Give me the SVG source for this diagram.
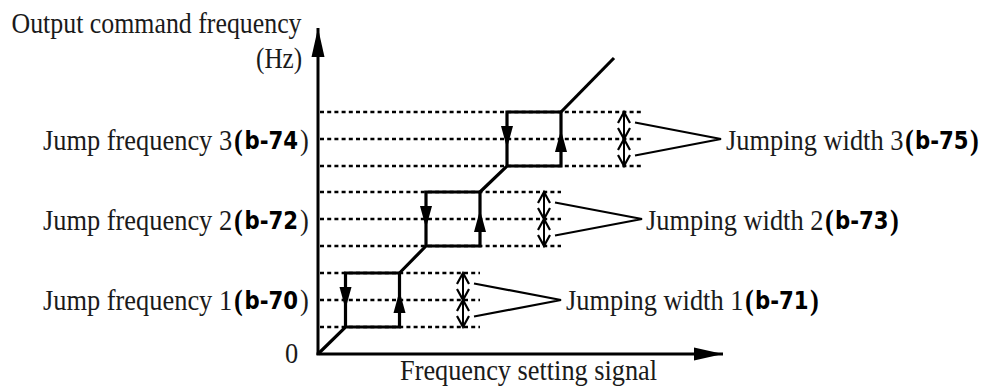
<svg xmlns="http://www.w3.org/2000/svg" width="983" height="390" viewBox="0 0 983 390">
<style>
  .t { font-family: "Liberation Serif", "Times New Roman", serif; font-size: 30px; fill: #1a1a1a; }
  .pb { font-family: "Liberation Serif", "Times New Roman", serif; font-size: 30px; font-weight: bold; fill: #000; }
  .code { font-family: "DejaVu Sans", "Liberation Sans", sans-serif; font-size: 25px; font-weight: bold; fill: #000; }
  .axis { stroke: #000; stroke-width: 3; fill: none; }
  .curve { stroke: #000; stroke-width: 3.2; fill: none; stroke-linejoin: miter; }
  .dash { stroke: #000; stroke-width: 2.3; stroke-dasharray: 4 3.2; fill: none; }
  .dbl { stroke: #000; stroke-width: 2; fill: none; marker-start: url(#chev); marker-end: url(#chev); }
  .call { stroke: #000; stroke-width: 2.2; fill: none; stroke-linejoin: miter; }
  .ah { fill: #000; }
</style>
<defs>
  <marker id="axhead" markerUnits="userSpaceOnUse" markerWidth="32" markerHeight="16" refX="0" refY="0" viewBox="-30 -7 32 14" orient="auto" overflow="visible">
    <path d="M0,0 L-29,-6.5 L-29,6.5 Z" fill="#000"/>
  </marker>
  <marker id="chev" markerUnits="userSpaceOnUse" markerWidth="14" markerHeight="14" refX="0" refY="0" viewBox="-12 -7 14 14" orient="auto-start-reverse" overflow="visible">
    <path d="M-11,-6 L0,0 L-11,6" fill="none" stroke="#000" stroke-width="2.2"/>
  </marker>
</defs>

<g id="guides">
  <line class="dash" x1="320" y1="112" x2="642" y2="112"/>
  <line class="dash" x1="320" y1="139" x2="642" y2="139"/>
  <line class="dash" x1="320" y1="166" x2="642" y2="166"/>
  <line class="dash" x1="320" y1="192" x2="561" y2="192"/>
  <line class="dash" x1="320" y1="219" x2="561" y2="219"/>
  <line class="dash" x1="320" y1="246" x2="561" y2="246"/>
  <line class="dash" x1="320" y1="273" x2="480" y2="273"/>
  <line class="dash" x1="320" y1="300" x2="480" y2="300"/>
  <line class="dash" x1="320" y1="327" x2="480" y2="327"/>
</g>

<g id="axes">
  <line class="axis" x1="318" y1="355" x2="318" y2="28" marker-end="url(#axhead)"/>
  <line class="axis" x1="316.5" y1="354" x2="723" y2="354" marker-end="url(#axhead)"/>
</g>

<g id="curve">
  <path class="curve" d="M318,354 L345.5,327 L399.5,327 L399.5,273 L345.5,273 L345.5,327"/>
  <path class="curve" d="M399.5,273 L426,246 L480,246 L480,192 L426,192 L426,246"/>
  <path class="curve" d="M480,192 L507,166 L561,166 L561,112 L507,112 L507,166"/>
  <path class="curve" d="M561,112 L614,58"/>
  <polygon class="ah" points="339.5,287 351.5,287 345.5,309"/>
  <polygon class="ah" points="393.5,313 405.5,313 399.5,291"/>
  <polygon class="ah" points="420,206 432,206 426,228"/>
  <polygon class="ah" points="474,232 486,232 480,210"/>
  <polygon class="ah" points="501,126 513,126 507,148"/>
  <polygon class="ah" points="555,152 567,152 561,130"/>
</g>

<g id="widths">
  <line class="dbl" x1="463" y1="273" x2="463" y2="300"/>
  <line class="dbl" x1="463" y1="300" x2="463" y2="327"/>
  <line class="dbl" x1="544" y1="192" x2="544" y2="219"/>
  <line class="dbl" x1="544" y1="219" x2="544" y2="246"/>
  <line class="dbl" x1="624" y1="112" x2="624" y2="139"/>
  <line class="dbl" x1="624" y1="139" x2="624" y2="166"/>
  <polyline class="call" points="474,283.5 561,300 474,316.5"/>
  <polyline class="call" points="555,202.5 642,219 555,235.5"/>
  <polyline class="call" points="635,122.5 721,139 635,155.5"/>
</g>

<g id="label-yaxis">
  <text class="t" transform="translate(11.5,33) scale(0.862,1)">Output command frequency</text>
  <text class="t" transform="translate(256,68) scale(0.84,1)">(Hz)</text>
  <text class="t" transform="translate(285,363) scale(0.88,1)">0</text>
</g>

<g id="label-xaxis">
  <text class="t" transform="translate(400,380) scale(0.877,1)">Frequency setting signal</text>
</g>

<g id="label-jf3">
  <text class="t" transform="translate(43,150) scale(0.88,1)">Jump frequency 3</text>
  <text class="pb" transform="translate(234,150) scale(0.88,1)">(</text>
  <text class="code" transform="translate(244.5,149) scale(0.85,1)">b-74</text>
  <text class="t" transform="translate(300,150) scale(0.88,1)">)</text>
</g>
<g id="label-jf2">
  <text class="t" transform="translate(43,230) scale(0.88,1)">Jump frequency 2</text>
  <text class="pb" transform="translate(234,230) scale(0.88,1)">(</text>
  <text class="code" transform="translate(244.5,229) scale(0.85,1)">b-72</text>
  <text class="t" transform="translate(300,230) scale(0.88,1)">)</text>
</g>
<g id="label-jf1">
  <text class="t" transform="translate(43,310) scale(0.88,1)">Jump frequency 1</text>
  <text class="pb" transform="translate(234,310) scale(0.88,1)">(</text>
  <text class="code" transform="translate(244.5,309) scale(0.85,1)">b-70</text>
  <text class="t" transform="translate(300,310) scale(0.88,1)">)</text>
</g>

<g id="label-jw3">
  <text class="t" transform="translate(726,150) scale(0.88,1)">Jumping width 3</text>
  <text class="pb" transform="translate(905,150) scale(0.88,1)">(</text>
  <text class="code" transform="translate(915,149) scale(0.85,1)">b-75</text>
  <text class="pb" transform="translate(970,150) scale(0.88,1)">)</text>
</g>
<g id="label-jw2">
  <text class="t" transform="translate(646,230) scale(0.88,1)">Jumping width 2</text>
  <text class="pb" transform="translate(825,230) scale(0.88,1)">(</text>
  <text class="code" transform="translate(835,229) scale(0.85,1)">b-73</text>
  <text class="pb" transform="translate(890,230) scale(0.88,1)">)</text>
</g>
<g id="label-jw1">
  <text class="t" transform="translate(566,310) scale(0.88,1)">Jumping width 1</text>
  <text class="pb" transform="translate(745,310) scale(0.88,1)">(</text>
  <text class="code" transform="translate(755,309) scale(0.85,1)">b-71</text>
  <text class="pb" transform="translate(810,310) scale(0.88,1)">)</text>
</g>
</svg>
